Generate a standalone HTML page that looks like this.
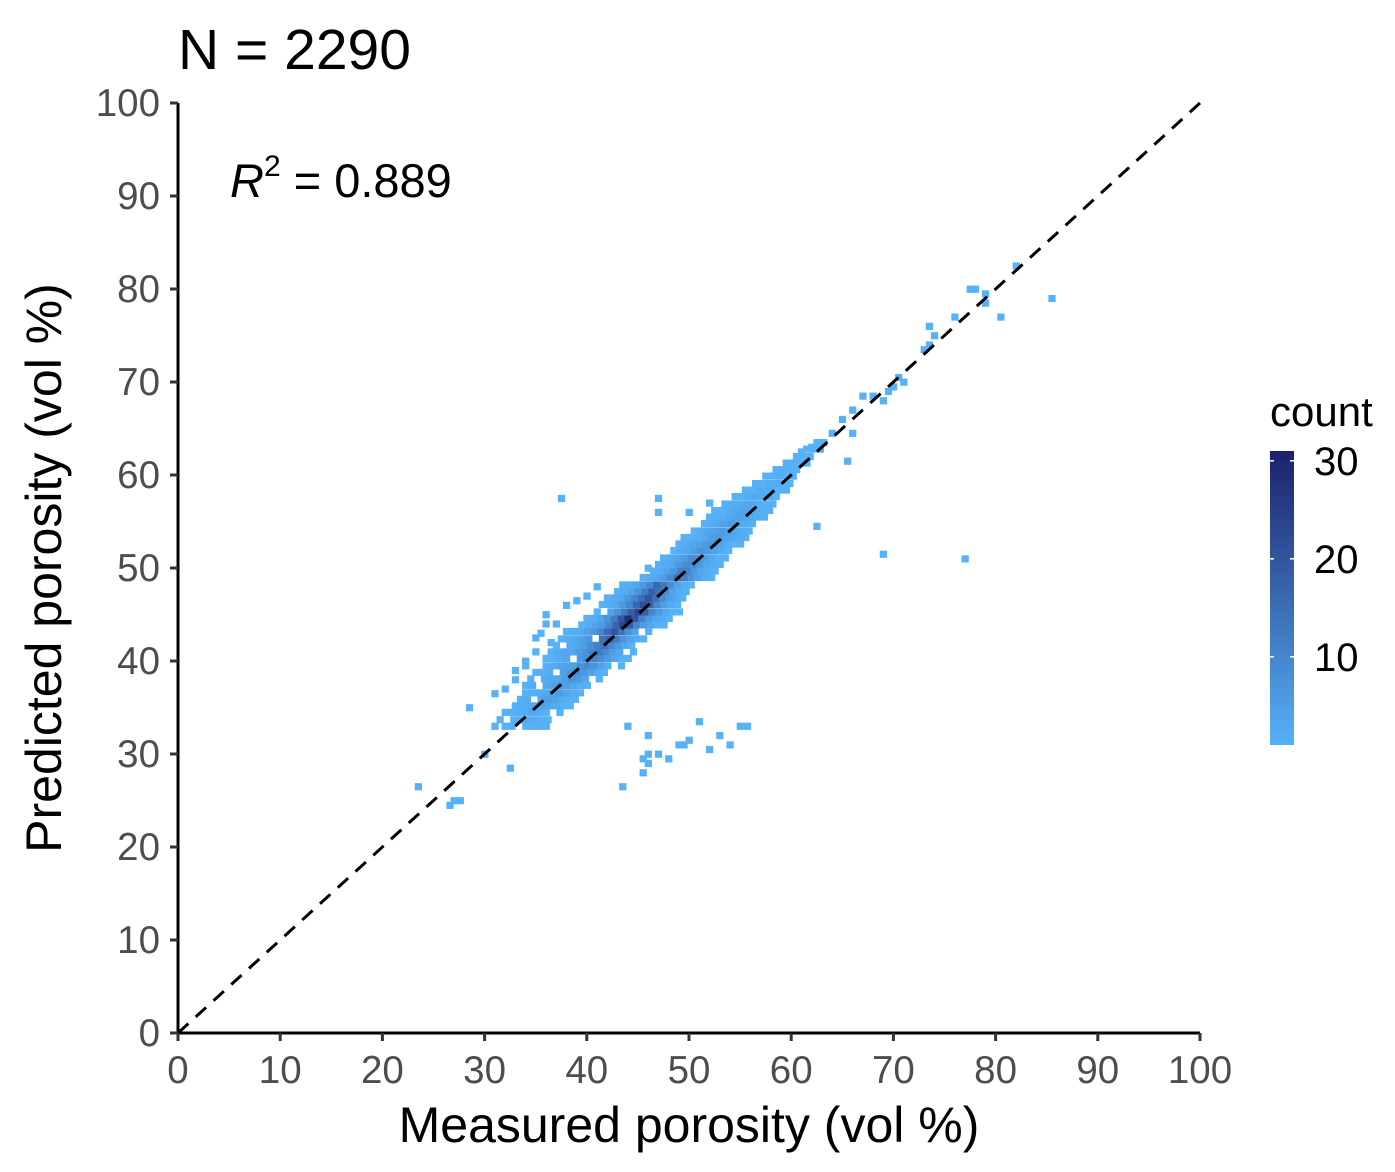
<!DOCTYPE html>
<html><head><meta charset="utf-8"><style>
html,body{margin:0;padding:0;background:#fff;}
svg{display:block;font-family:"Liberation Sans",Arial,sans-serif;}
</style></head><body>
<svg id="chart" width="1395" height="1172" viewBox="0 0 1395 1172">
<rect width="1395" height="1172" fill="#fff"/>
<g id="cells"></g>
<g id="axes"></g>
<text x="178" y="69" font-size="57" fill="#000">N = 2290</text>
<text x="230" y="197" font-size="47" fill="#000"><tspan font-style="italic">R</tspan><tspan dy="-21" font-size="30">2</tspan><tspan dy="21"> = 0.889</tspan></text>
<text x="689" y="1142" font-size="50" text-anchor="middle" fill="#000">Measured porosity (vol %)</text>
<text transform="translate(61,568) rotate(-90)" font-size="50" text-anchor="middle" fill="#000">Predicted porosity (vol %)</text>
<g id="legend"></g>
</svg>
<script>
// data
const xTicks = [0,10,20,30,40,50,60,70,80,90,100];
const yTicks = [0,10,20,30,40,50,60,70,80,90,100];
const legendTicks = [10,20,30];
const binW = 0.67, binH = 0.73;
// band rows: y center, starting x, counts per consecutive x bin
const rowY  = [33.0,33.7,34.5,35.2,35.9,36.6,37.4,38.1,38.8,39.5,40.3,41.0,41.7,42.4,43.2,43.9,44.6,45.3,46.1,46.8,47.5,48.2,49.0,49.7,50.4,51.1,51.9,52.6,53.3,54.0,54.8,55.5,56.2,56.9,57.7,58.4,59.1,59.9,60.6,61.3,62.0,62.8,63.5];
const rowX0 = [32.0,31.5,32.0,33.0,33.5,34.0,34.0,34.5,35.0,36.0,36.0,36.5,37.0,37.5,38.0,39.5,40.0,41.0,41.5,42.0,43.0,43.5,45.5,46.5,47.0,47.5,48.5,49.0,49.5,50.5,51.5,52.0,52.5,53.5,54.5,55.5,56.5,57.5,58.5,59.5,60.5,61.5,62.5];
const rowCounts = [
"1 1 0 1 1 1 1","1 0 1 1 2 2 1 1","1 1 2 2 3 2 1 0 1","1 2 2 3 4 3 2 1 1","1 2 0 3 5 4 2 1 1",
"1 1 2 3 4 5 3 2 1","1 2 0 3 4 6 5 3 2 1","1 0 2 3 3 5 7 6 3 0 1","1 1 2 0 4 6 8 6 4 2 1","1 2 3 4 5 7 9 7 4 2 0 1",
"1 1 2 3 0 6 8 10 8 5 3 1 1","1 2 3 3 5 7 10 12 9 5 3 0 1","1 0 2 3 5 8 11 14 10 6 3 1","1 2 3 4 6 0 14 17 12 7 4 2 1","1 2 2 4 6 10 16 20 14 8 4 0 1",
"1 2 4 6 10 17 24 18 10 5 3 1 1","1 2 4 7 12 20 28 20 11 6 3 2 1","1 0 4 7 12 18 24 18 10 6 3 1 1","1 2 3 6 10 16 22 16 9 5 2 1","1 2 3 6 10 15 20 15 9 5 3 1",
"1 2 4 7 12 18 14 8 4 2 1","1 2 3 6 10 16 13 8 4 2 1","1 2 3 5 9 14 11 7 4 2 1","1 2 4 7 11 10 6 3 2 1","1 2 3 6 9 9 6 3 2 1",
"1 2 3 5 8 8 5 3 1 1","1 2 3 5 7 6 4 2 1","1 2 3 4 6 6 4 2 1 1","1 1 2 3 5 6 4 3 2 1","1 2 3 4 5 4 3 2 1",
"1 2 3 4 5 3 2 1","1 1 2 3 4 4 3 2 1","1 1 2 3 4 3 2 1 1","1 2 2 3 3 2 1 1","1 1 2 3 2 2 1",
"1 1 2 2 2 1 1","1 1 2 2 1 1","1 1 2 1 1","1 1 1 1","1 1 1 1","1 1 1","1 1 1","1 1"];
// isolated cells
const ptX = [37.5,47,47,62.5,65.5,69,77,85.5,82,78,79,77.5,79,80.5,76,73.5,73.5,73,74,70.5,69,68,67,66,65,64,62,61,66,71,70,69.5,23.5,27,27.6,26.6,28.5,31,32.5,30,33,32,33,31,44,46,47,46,45.5,46,48,49,50,51,52,54,55,55.7,45.5,43.5,49.5,53,33,34,35,36.5,35.5,37,36,38,34,40,41,39,36,35,46,52,50];
const ptY = [57.5,57.5,56,54.5,61.5,51.5,51,79,82.5,80,79.5,80,78.5,77,77,76,74,73.5,75,70.5,68,68.5,68.5,67,66,64.5,63,62.5,64.5,70,69.5,69,26.5,25,25,24.5,35,33,28.5,30,35,37,38,36.5,33,32,30,30,29.5,29,29.5,31,31.5,33.5,30.5,31,33,33,28,26.5,31,32,39,40,41,42,43,44,45,46,39.5,47,48,46.5,44,42.5,50,57,56];

const NS="http://www.w3.org/2000/svg";
const X0=178,X1=1200,Y0=1033,Y1=103;
const sx=v=>X0+(v/100)*(X1-X0);
const sy=v=>Y0-(v/100)*(Y0-Y1);
const cmin=1,cmax=31;
const lo=[86,177,247],hi=[28,33,106];
function col(c){const t=Math.max(0,Math.min(1,(c-cmin)/(cmax-cmin)));
 return `rgb(${lo.map((l,i)=>Math.round(l+(hi[i]-l)*t)).join(',')})`;}
const cells=document.getElementById('cells');
function cell(x,y,c){
 const r=document.createElementNS(NS,'rect');
 r.setAttribute('x',sx(x-binW/2));r.setAttribute('y',sy(y+binH/2));
 r.setAttribute('width',sx(binW)-X0+0.4);r.setAttribute('height',Y0-sy(binH)+0.4);
 r.setAttribute('fill',col(c));
 
 
 cells.appendChild(r);}
rowY.forEach((y,i)=>{rowCounts[i].split(' ').map(Number).forEach((c,k)=>{if(c>0)cell(rowX0[i]+k*binW,y,c);});});
ptX.forEach((x,i)=>cell(x,ptY[i],1));

const axes=document.getElementById('axes');
function el(tag,attrs,parent,txt){const e=document.createElementNS(NS,tag);for(const k in attrs)e.setAttribute(k,attrs[k]);if(txt!==undefined)e.textContent=txt;parent.appendChild(e);return e;}
const diag=el('line',{x1:sx(0),y1:sy(0),x2:sx(100),y2:sy(100),stroke:'#000','stroke-width':3,'stroke-dasharray':'14 10'},axes);


const xa=el('line',{x1:X0-1.5,y1:Y0,x2:X1,y2:Y0,stroke:'#000','stroke-width':3},axes);


const ya=el('line',{x1:X0,y1:Y0+1.5,x2:X0,y2:Y1,stroke:'#000','stroke-width':3},axes);


xTicks.forEach(v=>{
 const t=el('line',{x1:sx(v),y1:Y0,x2:sx(v),y2:Y0+8,stroke:'#333','stroke-width':3},axes);
 
 
 const l=el('text',{x:sx(v),y:Y0+50,'font-size':38.5,fill:'#4d4d4d','text-anchor':'middle'},axes,String(v));
 
 
});
yTicks.forEach(v=>{
 const t=el('line',{x1:X0-8,y1:sy(v),x2:X0,y2:sy(v),stroke:'#333','stroke-width':3},axes);
 
 
 const l=el('text',{x:X0-18,y:sy(v)+13,'font-size':38.5,fill:'#4d4d4d','text-anchor':'end'},axes,String(v));
 
 
});
// legend
const lg=document.getElementById('legend');
const LX=1270,LW=24,LT=451,LB=745;
const ly=v=>LB-(v-cmin)/(cmax-cmin)*(LB-LT);
const defs=el('defs',{},lg);
const grad=el('linearGradient',{id:'cg',x1:0,y1:1,x2:0,y2:0},defs);
el('stop',{offset:'0',['stop-color']:col(cmin)},grad);
el('stop',{offset:'1',['stop-color']:col(cmax)},grad);
const bar=el('rect',{x:LX,y:LT,width:LW,height:LB-LT,fill:'url(#cg)'},lg);


const lt=el('text',{x:LX,y:426,'font-size':42,fill:'#000'},lg,'count');


legendTicks.forEach(v=>{
 el('line',{x1:LX,y1:ly(v),x2:LX+4,y2:ly(v),stroke:'#fff','stroke-width':1.5},lg);
 el('line',{x1:LX+LW-4,y1:ly(v),x2:LX+LW,y2:ly(v),stroke:'#fff','stroke-width':1.5},lg);
 const l=el('text',{x:LX+44,y:ly(v)+14,'font-size':40,fill:'#000'},lg,String(v));
 
 
});
</script>
</body></html>
